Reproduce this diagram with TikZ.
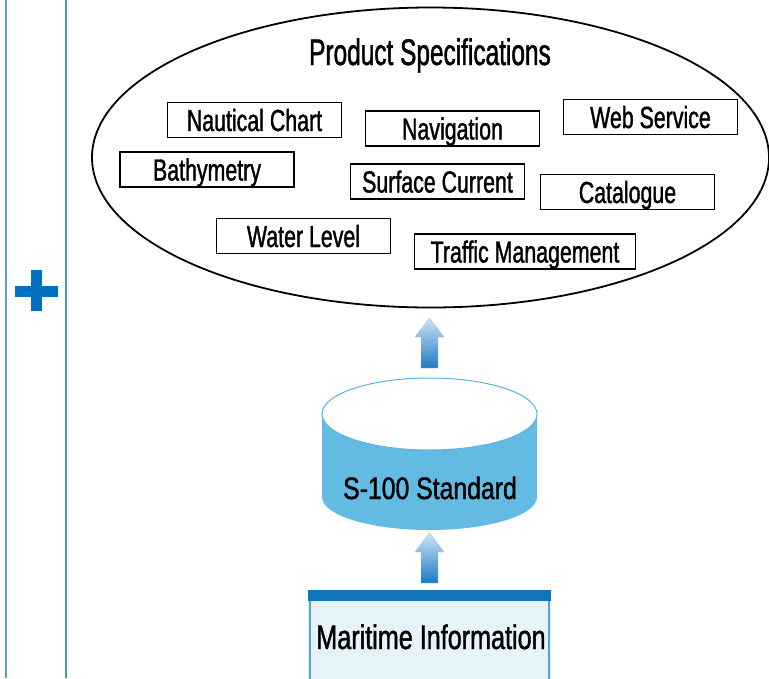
\documentclass[tikz,border=0pt]{standalone}
\usepackage{fontspec}
\setmainfont{Liberation Sans}[FakeStretch=0.70, FakeBold=1.2]
\newfontfamily\titlefont{Liberation Sans}[FakeStretch=0.66, FakeBold=1.2]
\newfontfamily\cylfont{Liberation Sans}[FakeStretch=0.80, FakeBold=1.2]
\newfontfamily\mifont{Liberation Sans}[FakeStretch=0.74, FakeBold=1.2]
\usetikzlibrary{shapes.geometric,calc}
\definecolor{lineA}{RGB}{91,155,213}
\definecolor{lineB}{RGB}{64,160,180}
\definecolor{plusblue}{RGB}{0,112,192}
\definecolor{cylfill}{RGB}{99,186,226}
\definecolor{cylline}{RGB}{92,180,224}
\definecolor{arrowtop}{RGB}{205,230,247}
\definecolor{arrowbot}{RGB}{30,120,196}
\definecolor{bandblue}{RGB}{18,115,190}
\definecolor{mibody}{RGB}{230,243,250}
\definecolor{miline}{RGB}{90,160,215}
\tikzset{
  pbox/.style={draw=black, line width=1.5pt, fill=white, minimum width=174pt, minimum height=35pt, inner sep=0pt, text height=22pt, text depth=0pt, font=\fontsize{30.5}{33}\selectfont},
  blockarrow/.style={top color=arrowtop, bottom color=arrowbot, draw=arrowtop!70!arrowbot, line width=0.4pt},
}
\begin{document}
\begin{tikzpicture}[x=1pt,y=-1pt]
\useasboundingbox (0,0) rectangle (769,678);
\clip (0,0) rectangle (769,678);
% side lines and plus
\draw[lineA, line width=1.5pt] (6,0) -- (6,678);
\draw[lineB, line width=1.5pt] (66,0) -- (66,678);
\fill[plusblue] (15,286) rectangle (58,297);
\fill[plusblue] (31,270) rectangle (42,311);
% product specifications ellipse
\node[ellipse, draw=black, line width=1.8pt, minimum width=677pt, minimum height=300pt, inner sep=0pt] (ps) at (430.5,157.5) {};
\node[anchor=base, font=\titlefont\fontsize{37}{40}\selectfont] (title) at (430,65) {Product Specifications};
\node[pbox] (nc) at (254.5,120) {Nautical Chart};
\node[pbox] (nav) at (452.5,128.5) {Navigation};
\node[pbox] (web) at (650.5,117) {Web Service};
\node[pbox] (bat) at (207,169.5) {Bathymetry};
\node[pbox] (sc) at (437.5,181.5) {Surface Current};
\node[pbox] (cat) at (627.5,192) {Catalogue};
\node[pbox] (wl) at (303.5,236) {Water Level};
\node[pbox, minimum width=221pt] (tm) at (525,251.5) {Traffic Management};
% cylinder
\fill[cylfill] (322,414) -- (322,497) arc[start angle=180, end angle=0, x radius=107.5, y radius=33] -- (537,414) arc[start angle=0, end angle=-180, x radius=107.5, y radius=36] -- cycle;
\draw[cylline, line width=1pt, fill=white] (429.5,414) ellipse [x radius=107.5, y radius=36];
\node[anchor=base, font=\cylfont\fontsize{31}{34}\selectfont] (s100) at (430,499) {S-100 Standard};
% maritime information box
\fill[mibody] (308,590) rectangle (551,700);
\draw[miline, line width=1.2pt] (310,600) rectangle (549,700);
\fill[bandblue] (308,590) rectangle (551,601);
\node[anchor=base, font=\mifont\fontsize{34}{37}\selectfont] (mi) at (431,649) {Maritime Information};
% block arrows
\coordinate (a1tip) at (429.5,318);
\coordinate (a1base) at (429.5,368);
\coordinate (a2tip) at (429.5,533);
\coordinate (a2base) at (429.5,583);
\foreach \t/\b in {a1tip/a1base, a2tip/a2base}{
  \path[blockarrow] (\t) -- ($(\t)+(14.5,19)$) -- ($(\t)+(8.5,19)$) -- ($(\b)+(8.5,0)$) -- ($(\b)+(-8.5,0)$) -- ($(\t)+(-8.5,19)$) -- ($(\t)+(-14.5,19)$) -- cycle;
}
\end{tikzpicture}
\end{document}
